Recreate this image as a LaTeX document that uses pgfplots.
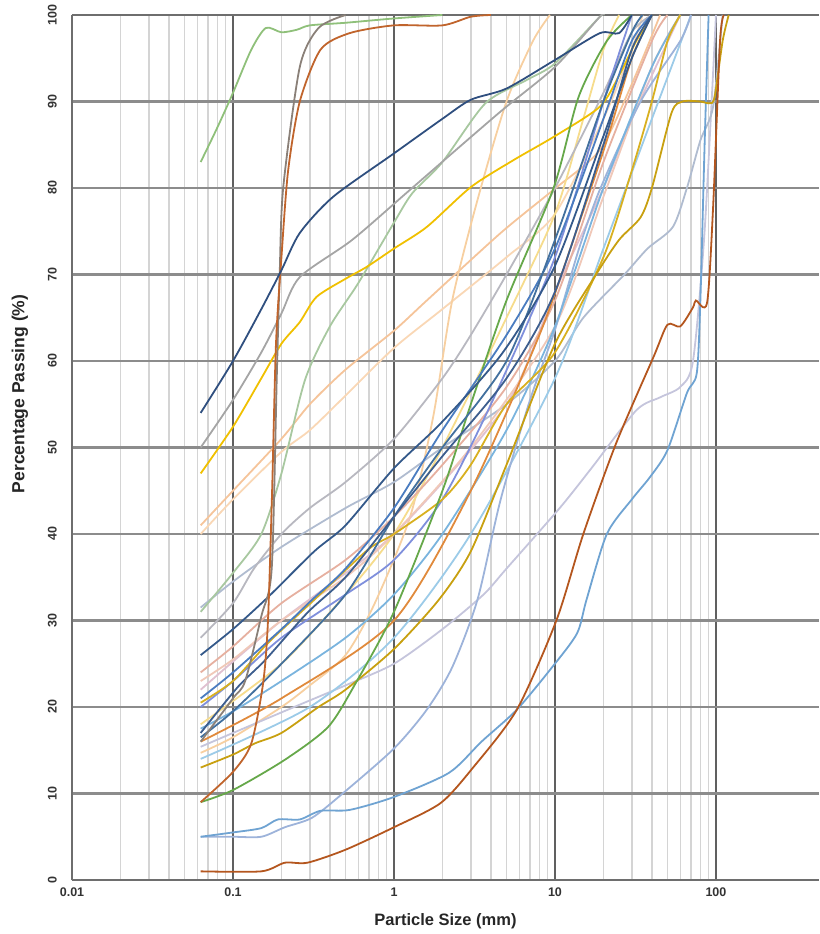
\documentclass[border=0pt]{standalone}
\usepackage{pgfplots}
\pgfplotsset{compat=1.18}
\usepackage{fontspec}
\setmainfont{Liberation Sans}
\definecolor{axisgray}{HTML}{6E6E6E}
\definecolor{hgrid}{HTML}{8C8C8C}
\definecolor{vgrid}{HTML}{606060}
\definecolor{mgrid}{HTML}{D4D4D4}
\definecolor{cA}{HTML}{8FC07A}
\definecolor{cB}{HTML}{8A8078}
\definecolor{cC}{HTML}{C0642C}
\definecolor{cD}{HTML}{2F4F7F}
\definecolor{cE}{HTML}{A5A5A5}
\definecolor{cF}{HTML}{F0C000}
\definecolor{cG1}{HTML}{F5C49A}
\definecolor{cG2}{HTML}{F9D7B5}
\definecolor{cG3}{HTML}{D8B020}
\definecolor{cH}{HTML}{F7CFA0}
\definecolor{cI}{HTML}{A8C8A0}
\definecolor{cJ}{HTML}{B8B8C0}
\definecolor{cK}{HTML}{B0BCD0}
\definecolor{cL}{HTML}{34598A}
\definecolor{cM1}{HTML}{E6B0A0}
\definecolor{cM2}{HTML}{F0C8B8}
\definecolor{cN1}{HTML}{4A7CC0}
\definecolor{cN2}{HTML}{7F8FDC}
\definecolor{cO}{HTML}{3D5E8E}
\definecolor{cP}{HTML}{C8A010}
\definecolor{cQ}{HTML}{66A84A}
\definecolor{cR1}{HTML}{6FA3D2}
\definecolor{cR2}{HTML}{9DB3DA}
\definecolor{cS}{HTML}{B4561E}
\definecolor{cU}{HTML}{C5C5DC}
\definecolor{cW1}{HTML}{7AB4DE}
\definecolor{cW3}{HTML}{E0C0D0}
\definecolor{cW4}{HTML}{42709E}
\definecolor{cW5}{HTML}{F6DC8C}
\definecolor{cW6}{HTML}{9CCBE8}
\definecolor{cW7}{HTML}{E08A3C}
\begin{document}
\begin{tikzpicture}
\useasboundingbox (-72pt,-54pt) rectangle (747pt,880pt);
\begin{semilogxaxis}[
  at={(0pt,0pt)}, anchor=south west,
  scale only axis, width=747pt, height=865pt,
  xmin=0.01, xmax=436.5, ymin=0, ymax=100,
  axis x line*=box, axis y line*=left,
  axis line style={draw=axisgray, line width=2.2pt},
  xtick={0.01,0.1,1,10,100},
  xticklabels={0.01,0.1,1,10,100},
  ytick={0,10,20,30,40,50,60,70,80,90,100},
  major tick length=0pt, minor tick length=0pt,
  xmajorgrids, xminorgrids, ymajorgrids,
  major x grid style={draw=vgrid, line width=1.1pt},
  minor x grid style={draw=mgrid, line width=1.5pt},
  major y grid style={draw=hgrid, line width=2.3pt},
  /pgf/number format/assume math mode=true,
  ticklabel style={font=\bfseries\fontsize{12.5}{13}\selectfont, text=black!80},
  xticklabel style={anchor=north, inner sep=0pt, yshift=-8pt},
  yticklabel style={xshift=-15pt, rotate=90, anchor=south, inner sep=0pt},
  xlabel={Particle Size (mm)},
  ylabel={Percentage Passing (\%)},
  xlabel style={at={(axis description cs:0.5,-0.0474)}, anchor=center, font=\bfseries\fontsize{16.5}{17}\selectfont, text=black!85},
  ylabel style={at={(axis description cs:-0.0696,0.562)}, anchor=center, font=\bfseries\fontsize{17.5}{18}\selectfont, text=black!85},
  every axis plot/.append style={smooth, tension=0.45, line width=1.8pt, no marks},
]
% pale / light curves first
\addplot[cG2] coordinates {(0.063,40) (0.1,44) (0.2,49.5) (0.3,52) (0.5,56) (1,61.5) (2,66) (5,72) (10,77) (20,88) (30,96) (35,100)};
\addplot[cG1] coordinates {(0.063,41) (0.1,45) (0.2,51) (0.3,55) (0.5,59) (1,63.5) (1.6,67) (4.6,74.8) (9.8,79.8) (19,84.4) (30,92) (45,100)};
\addplot[cH] coordinates {(0.063,14.7) (0.1,16.5) (0.2,20) (0.3,22.5) (0.5,26) (0.76,32) (1.26,42) (1.75,53.5) (2.3,67) (3.3,78.6) (5,90) (7.3,97) (9.3,100)};
\addplot[cW5] coordinates {(0.063,18) (0.2,25) (0.5,33) (1,40) (2,50) (5,65) (10,77) (15,88) (20,96) (25,100)};
\addplot[cU] coordinates {(0.063,15.4) (0.1,17) (0.24,20) (0.5,22.5) (1,25) (2,29) (3.6,33) (5,36) (10.7,43) (17,47.7) (32,54.3) (45,55.8) (60,57) (72,60) (85,75) (100,100)};
\addplot[cK] coordinates {(0.063,31.5) (0.1,34.5) (0.2,38.5) (0.5,43) (1,46) (2,50) (5,55) (10,60) (15,65) (27,70) (37.6,73) (54,75.5) (66,80) (80,85.5) (96,89.4) (110,100)};
\addplot[cJ] coordinates {(0.063,28) (0.1,32) (0.135,36) (0.2,40) (0.3,43) (0.5,46) (1,51) (2,58) (3,63) (5,70) (10,80) (20,91) (30,98) (40,100)};
\addplot[cW3] coordinates {(0.063,22) (0.2,30) (1,40) (5,55) (10,68) (20,80) (30,88) (60,100)};
\addplot[cM2] coordinates {(0.063,23) (0.1,25.5) (0.2,30) (0.5,35) (1,40) (3,50) (10,64) (20,79) (40,94) (60,100)};
\addplot[cM1] coordinates {(0.063,24) (0.1,27) (0.2,32) (0.5,37) (1,42) (2,48) (5,57) (10,67) (20,83) (40,97) (50,100)};
\addplot[cW6] coordinates {(0.063,14) (0.3,20) (1,28) (3,40) (10,58) (20,73) (40,88) (70,100)};
\addplot[cI] coordinates {(0.063,31) (0.1,35.5) (0.15,40) (0.2,47) (0.28,57.8) (0.4,64) (0.6,69) (1,76) (1.3,79.4) (2,83) (3.7,89.8) (6.7,92.5) (10,94.4) (19,99.8) (20,100)};
\addplot[cE] coordinates {(0.063,50) (0.1,55.5) (0.15,61) (0.2,65.5) (0.26,69.7) (0.55,74) (1.26,79.8) (4.5,88.7) (10,94) (19,99.8) (20,100)};
\addplot[cA] coordinates {(0.063,83) (0.08,87) (0.1,91) (0.13,96) (0.16,98.5) (0.2,98) (0.25,98.3) (0.3,98.8) (0.5,99.1) (1,99.6) (2,100)};
\addplot[cR2] coordinates {(0.063,5) (0.1,5) (0.15,5) (0.21,6.1) (0.31,7.2) (0.48,10) (1,15.2) (1.6,19.7) (2.3,24.6) (3.3,32.4) (4.6,44) (7,55.5) (10,63.6) (14,72.8) (19,79.8) (34,90) (60,97) (70,100)};
\addplot[cW1] coordinates {(0.063,17.5) (0.1,19.5) (0.2,23) (0.5,28) (1,33) (2,40) (5,52) (10,64) (20,80) (40,94) (60,100)};
\addplot[cR1] coordinates {(0.063,5) (0.1,5.5) (0.15,6) (0.19,7) (0.26,7) (0.35,8) (0.53,8.1) (1,9.6) (2.2,12.4) (3.5,16) (5.8,19.7) (9.6,24.6) (13.7,28.5) (15.7,32.4) (21,40) (30,44) (39,46.6) (50,49.7) (66,56.3) (76,58.6) (80,67) (85,85) (90,100)};
\addplot[cN2] coordinates {(0.063,20) (0.1,23) (0.2,28) (0.5,33) (1,37) (2,44) (4,55) (10,72) (20,90) (30,100)};
\addplot[cW7] coordinates {(0.063,16) (0.2,21) (1,30) (3,45) (8,63) (13,74) (21,85.5) (30,95) (40,100)};
\addplot[cG3] coordinates {(0.063,20.5) (0.1,23) (0.165,27.4) (0.32,32.4) (0.69,38.2) (1,40) (2,44) (3,48) (5,55) (10,61) (20,72) (30,82) (40,90) (50,97) (60,100)};
\addplot[cF] coordinates {(0.063,47) (0.1,52.4) (0.15,58) (0.2,62) (0.26,64.5) (0.33,67.4) (0.5,69.5) (0.68,70.9) (1,73) (1.6,75.5) (3,80.1) (5.5,83.2) (10,86) (19,89.4) (25,93) (32,97) (40,100)};
\addplot[cP] coordinates {(0.063,13) (0.1,14.5) (0.137,15.8) (0.2,17) (0.34,20) (0.5,22) (1,26.7) (1.9,32.4) (3,38) (5,48) (10,62) (18,70) (25,74) (34,76.6) (40,80) (53,88.7) (62,90) (80,90) (91,89.8) (98,90.5) (110,97) (120,100)};
\addplot[cQ] coordinates {(0.063,9) (0.1,10.4) (0.21,13.9) (0.39,17.7) (0.58,22.8) (1,31) (2,45) (3,55) (5,67) (9.8,80) (14,90.5) (21,97) (30,100)};
\addplot[cN1] coordinates {(0.063,21) (0.1,24) (0.2,29) (0.31,32.4) (0.5,36) (1,43) (2,52) (5,63) (10,73) (20,88) (30,97) (40,100)};
\addplot[cW4] coordinates {(0.063,16.5) (0.1,19.5) (0.2,25) (0.5,33) (1,42) (2,50) (5,60) (10,74) (20,90) (30,98) (35,100)};
\addplot[cO] coordinates {(0.063,17) (0.107,22.3) (0.158,25.4) (0.29,30.9) (0.5,35) (1,42) (2,49) (5,58) (10,68) (20,85) (30,96) (40,100)};
\addplot[cL] coordinates {(0.063,26) (0.1,29) (0.165,32.7) (0.32,38) (0.5,41) (1,47.6) (2,53) (4.75,61) (10,71) (20,86) (30,95) (40,100)};
\addplot[cB] coordinates {(0.063,16) (0.1,21) (0.119,23) (0.15,30.5) (0.174,36) (0.187,58) (0.195,70) (0.205,80) (0.26,94) (0.34,98.5) (0.5,100)};
\addplot[cC] coordinates {(0.063,9) (0.1,12.5) (0.13,15.8) (0.154,22.8) (0.165,30) (0.175,45) (0.185,62) (0.2,72) (0.22,82) (0.26,90) (0.35,96) (0.53,97.9) (1,98.8) (2,98.8) (3,99.8) (4,100)};
\addplot[cS] coordinates {(0.063,1) (0.15,1) (0.21,2) (0.29,2) (0.5,3.5) (1,6.1) (1.95,8.9) (3.1,13) (5.8,19.7) (10.2,30) (15,40) (24,50.5) (41,60.5) (50,64.2) (60,64) (72,66.2) (75,67) (88,66.7) (96,77.8) (106,97) (112,100)};
\addplot[cD] coordinates {(0.063,54) (0.1,60) (0.15,66) (0.2,70.5) (0.26,74.8) (0.42,79) (1,84) (2,88) (3,90.2) (5,91.5) (10,94.8) (19,97.9) (25,97.9) (30,100)};
\end{semilogxaxis}
\end{tikzpicture}
\end{document}
